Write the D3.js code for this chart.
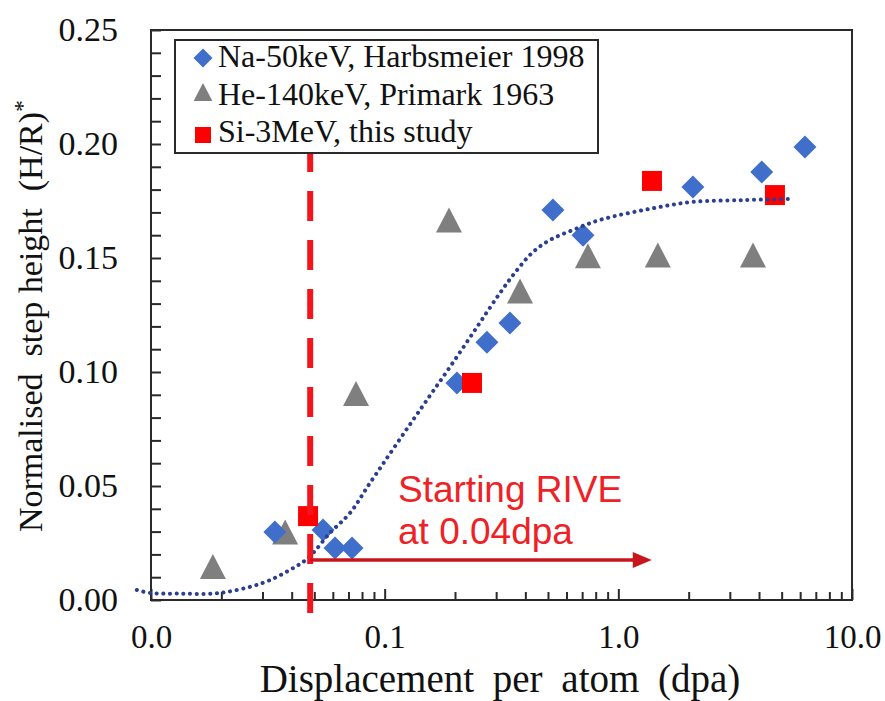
<!DOCTYPE html>
<html><head><meta charset="utf-8">
<script src="https://cdn.jsdelivr.net/npm/d3@7"></script>
<style>body{margin:0;background:#fff;} svg{display:block;}</style>
</head><body><svg id="c" width="885" height="701"></svg>
<script>
// ---- data ----
const naX = [0.0339, 0.0545, 0.0613, 0.0725, 0.2038, 0.274, 0.3436, 0.525, 0.706, 2.085, 4.11, 6.29];
const naY = [0.0298, 0.0307, 0.0228, 0.0228, 0.0952, 0.113, 0.1215, 0.171, 0.160, 0.1811, 0.1877, 0.1987];
const heX = [0.0184, 0.0375, 0.0754, 0.1885, 0.3795, 0.741, 1.476, 3.77];
const heY = [0.0147, 0.0298, 0.0906, 0.1667, 0.1355, 0.151, 0.1513, 0.1513];
const siX = [0.047, 0.2365, 1.393, 4.68];
const siY = [0.0368, 0.0952, 0.1838, 0.1776];
const fitX = [0.0087, 0.0099, 0.0133, 0.0197, 0.0301, 0.0393, 0.047, 0.0583, 0.0711, 0.0865, 0.1444, 0.1903, 0.2483, 0.3114, 0.3683, 0.4311, 0.5097, 0.6393, 0.834, 1.507, 2.085, 3.41, 5.32];
const fitY = [0.0044, 0.0031, 0.0028, 0.0031, 0.0075, 0.0132, 0.0184, 0.0294, 0.0382, 0.0513, 0.0846, 0.1022, 0.1197, 0.1346, 0.1447, 0.1526, 0.1579, 0.1623, 0.1667, 0.1724, 0.1746, 0.1754, 0.1759];
const legendLabels = ["Na-50keV, Harbsmeier 1998", "He-140keV, Primark 1963", "Si-3MeV, this study"];
const xTickValues = [0.01, 0.1, 1, 10];
const xTickLabels = ["0.0", "0.1", "1.0", "10.0"];
const yTickValues = [0, 0.05, 0.10, 0.15, 0.20, 0.25];
const yTickLabels = ["0.00", "0.05", "0.10", "0.15", "0.20", "0.25"];
const riveStart = 0.048;      // vertical dashed line
const arrowEnd = 1.39;        // arrow tip (dpa)
const arrowLevel = 0.0175;    // arrow height
const annotation = ["Starting RIVE", "at 0.04dpa"];

// ---- setup ----
const svg = d3.select("#c");
const serif = "'Liberation Serif','Times New Roman',serif";
const sans = "'Liberation Sans',Arial,sans-serif";
const x = d3.scaleLog().domain([0.01, 10]).range([151, 852]);
const y = d3.scaleLinear().domain([0, 0.25]).range([600, 30]);

const C = {na: "#3f6fcb", he: "#7f7f7f", si: "#ff0000", fit: "#2c3e8f", dash: "#f2161c", arrow: "#c8141c", txt: "#ee2226", axis: "#2a2a2a"};

function markerPath(type, s) {
  if (type === "diamond") return `M0,${-s/2}L${s/2},0L0,${s/2}L${-s/2},0Z`;
  if (type === "triangle") return `M0,${-s/2}L${s*0.52},${s/2}L${-s*0.52},${s/2}Z`;
  return `M${-s/2},${-s/2}H${s/2}V${s/2}H${-s/2}Z`;
}

// ---- axes ----
const yMinor = d3.range(0, 26).map(i => i / 100);
const gy = svg.append("g").attr("transform", "translate(151,0)")
  .call(d3.axisRight(y).tickValues(yMinor).tickSize(10).tickFormat(""));
gy.select(".domain").remove();
gy.selectAll("line").attr("stroke", C.axis).attr("stroke-width", 2);

const gyl = svg.append("g").attr("transform", "translate(151,0)")
  .call(d3.axisLeft(y).tickValues(yTickValues).tickSize(0).tickPadding(33).tickFormat((d, i) => yTickLabels[i]));
gyl.select(".domain").remove();
gyl.selectAll("text").attr("font-family", serif).attr("font-size", 34).attr("fill", "#111");

const xMinor = [];
[0.01, 0.1, 1].forEach(dd => { for (let k = 2; k <= 9; k++) xMinor.push(dd * k); });
const gxm = svg.append("g").attr("transform", "translate(0,600)")
  .call(d3.axisTop(x).tickValues(xMinor).tickSize(8).tickFormat(""));
gxm.select(".domain").remove();
gxm.selectAll("line").attr("stroke", C.axis).attr("stroke-width", 2);
const gxM = svg.append("g").attr("transform", "translate(0,600)")
  .call(d3.axisTop(x).tickValues(xTickValues).tickSize(11).tickFormat(""));
gxM.select(".domain").remove();
gxM.selectAll("line").attr("stroke", C.axis).attr("stroke-width", 2);

const gxl = svg.append("g").attr("transform", "translate(0,600)")
  .call(d3.axisBottom(x).tickValues(xTickValues).tickSize(0).tickPadding(25).tickFormat((d, i) => xTickLabels[i]));
gxl.select(".domain").remove();
gxl.selectAll("text").attr("font-family", serif).attr("font-size", 33).attr("fill", "#111");

// frame
svg.append("rect").attr("x", x(0.01)).attr("y", y(0.25))
  .attr("width", x(10) - x(0.01)).attr("height", y(0) - y(0.25))
  .attr("fill", "none").attr("stroke", C.axis).attr("stroke-width", 2);

// titles
svg.append("text").attr("x", 500).attr("y", 692)
  .attr("text-anchor", "middle").attr("font-family", serif).attr("font-size", 39)
  .attr("fill", "#111").attr("word-spacing", 9).text("Displacement per atom (dpa)");

const yt = svg.append("text").attr("transform", "translate(42,316) rotate(-90)")
  .attr("text-anchor", "middle").attr("font-family", serif).attr("font-size", 34)
  .attr("fill", "#111").style("white-space", "pre");
yt.append("tspan").text("Normalised  step height  (H/R)");
yt.append("tspan").attr("dy", -12).attr("font-size", 24).text("*");

// ---- markers ----
function drawSeries(xs, ys, type, color, size) {
  svg.append("g").selectAll("path").data(xs.map((v, i) => [v, ys[i]])).join("path")
    .attr("d", markerPath(type, size))
    .attr("transform", d => `translate(${x(d[0])},${y(d[1])})`)
    .attr("fill", color);
}
drawSeries(heX, heY, "triangle", C.he, 25);
drawSeries(naX, naY, "diamond", C.na, 23);
drawSeries(siX, siY, "square", C.si, 20);

// ---- fit curve (dotted) ----
const line = d3.line().x(d => x(d[0])).y(d => y(d[1])).curve(d3.curveCatmullRom.alpha(0.5));
svg.append("path").attr("d", line(fitX.map((v, i) => [v, fitY[i]])))
  .attr("fill", "none").attr("stroke", C.fit).attr("stroke-width", 4)
  .attr("stroke-linecap", "round").attr("stroke-dasharray", "0.1,6.6");

// ---- RIVE annotation ----
svg.append("line").attr("x1", x(riveStart)).attr("x2", x(riveStart))
  .attr("y1", y(0) + 13).attr("y2", y(0.25))
  .attr("stroke", C.dash).attr("stroke-width", 6).attr("stroke-dasharray", "30,19");

const ax1 = x(riveStart), ax2 = x(arrowEnd), ay = y(arrowLevel);
svg.append("line").attr("x1", ax1).attr("x2", ax2 - 16).attr("y1", ay).attr("y2", ay)
  .attr("stroke", C.arrow).attr("stroke-width", 3.5);
svg.append("path").attr("d", `M${ax2},${ay}L${ax2 - 19},${ay - 8}L${ax2 - 19},${ay + 8}Z`).attr("fill", C.arrow);

svg.append("text").attr("x", 398).attr("y", 502).attr("font-family", sans).attr("font-size", 37)
  .attr("fill", C.txt).text(annotation[0]);
svg.append("text").attr("x", 398).attr("y", 544).attr("font-family", sans).attr("font-size", 37)
  .attr("fill", C.txt).text(annotation[1]);

// ---- legend ----
const lg = svg.append("g");
lg.append("rect").attr("x", 175).attr("y", 40).attr("width", 423).attr("height", 113)
  .attr("fill", "#fff").attr("stroke", C.axis).attr("stroke-width", 2);
const legItems = [
  {type: "diamond", color: C.na, size: 19, my: 58, ty: 67},
  {type: "triangle", color: C.he, size: 18, my: 92, ty: 105},
  {type: "square", color: C.si, size: 16, my: 135, ty: 142}
];
legItems.forEach((it, i) => {
  lg.append("path").attr("d", markerPath(it.type, it.size))
    .attr("transform", `translate(203,${it.my})`).attr("fill", it.color);
  lg.append("text").attr("x", 218).attr("y", it.ty).attr("font-family", serif)
    .attr("font-size", 32).attr("fill", "#111").text(legendLabels[i]);
});
</script></body></html>
